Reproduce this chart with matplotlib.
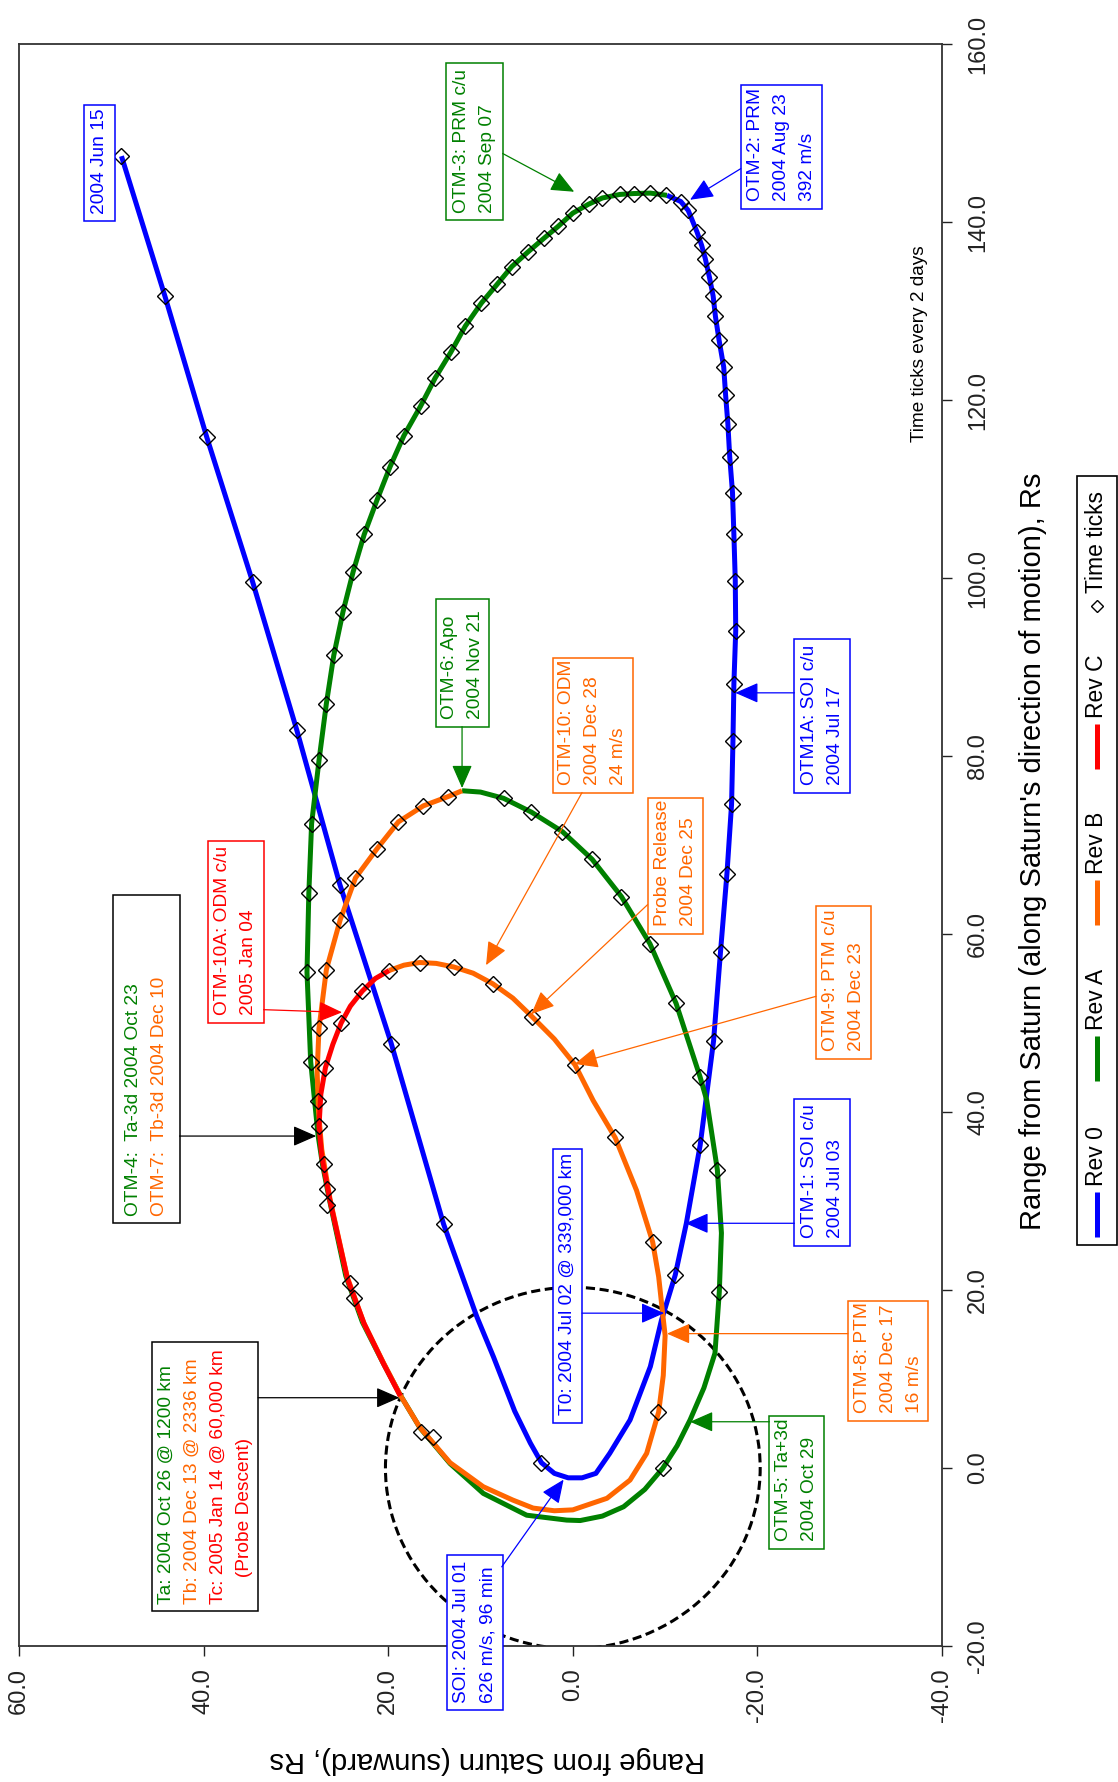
import matplotlib.pyplot as plt
from matplotlib.patches import Circle, Rectangle

plt.rcParams['font.family'] = ['Liberation Sans', 'DejaVu Sans']

BLUE = '#0000ff'
GREEN = '#008000'
ORANGE = '#ff6600'
RED = '#ff0000'

# Orbit tracks as (sunward range, range along Saturn's motion), Rs
rev0 = [(48.9, 147.4), (44.2, 131.7), (39.65, 115.8), (34.7, 99.6), (29.9, 82.9),
        (25.25, 65.6), (19.7, 47.8), (14.0, 27.4), (10.4, 17.0), (8.6, 12.5),
        (6.3, 6.4), (4.6, 2.8), (3.4, 0.6), (2.0, -0.6), (0.5, -1.1), (-1.0, -1.1),
        (-2.5, -0.6), (-4.0, 1.65), (-6.2, 5.4), (-8.4, 11.4), (-9.6, 16.6),
        (-11.1, 21.7), (-12.3, 27.5), (-13.8, 36.3), (-15.25, 48.0), (-16.0, 58.0),
        (-16.7, 66.8), (-17.2, 74.6), (-17.35, 81.7), (-17.45, 88.1), (-17.65, 94.1),
        (-17.6, 99.7), (-17.45, 104.9), (-17.3, 109.6), (-17.0, 113.6), (-16.8, 117.3),
        (-16.55, 120.6), (-16.35, 123.7), (-15.85, 126.7), (-15.45, 129.4),
        (-15.2, 131.7), (-14.8, 133.8), (-14.35, 135.9), (-13.95, 137.4),
        (-13.45, 138.9), (-12.5, 141.3), (-11.7, 142.3), (-10.2, 143.0)]

rev_a = [(-10.2, 143.0), (-8.4, 143.25), (-6.6, 143.2), (-5.1, 143.1), (-3.2, 142.7),
         (-1.7, 142.0), (0.0, 141.0), (1.6, 139.5), (3.1, 138.2), (4.9, 136.6),
         (6.6, 135.0), (8.2, 133.0), (9.9, 130.9), (11.65, 128.3), (13.2, 125.4),
         (14.9, 122.5), (16.5, 119.3), (18.3, 116.0), (19.8, 112.5), (21.2, 108.8),
         (22.6, 104.9), (23.8, 100.7), (24.9, 96.2), (25.9, 91.3), (26.7, 85.9),
         (27.5, 79.5), (28.3, 72.4), (28.6, 64.6), (28.8, 55.7), (28.4, 45.65),
         (27.6, 37.4), (27.1, 34.0), (26.4, 30.3), (24.6, 21.6), (22.8, 16.4),
         (20.6, 11.9), (18.75, 8.3), (16.55, 4.5), (13.3, 0.5), (9.7, -2.85),
         (5.0, -5.3), (0.66, -5.85), (-0.8, -5.9), (-3.2, -5.4), (-5.5, -4.35),
         (-7.8, -2.4), (-9.74, -0.03), (-11.3, 2.5), (-12.7, 5.4), (-14.2, 9.0),
         (-15.4, 12.9), (-15.87, 19.8), (-16.1, 26.4), (-15.66, 33.5), (-14.5, 41.35),
         (-13.78, 43.97), (-11.19, 52.2), (-8.36, 58.9), (-5.27, 64.2), (-2.09, 68.4),
         (1.12, 71.5), (4.49, 73.7), (7.5, 75.25), (10.0, 75.95), (12.0, 76.1)]

rev_b = [(12.0, 76.1), (13.5, 75.45), (16.2, 74.4), (18.9, 72.6), (21.2, 69.6),
         (23.55, 66.3), (25.2, 61.6), (26.7, 56.0), (27.5, 49.4), (27.7, 44.5),
         (27.55, 40.0), (27.2, 35.8), (26.3, 30.2), (24.45, 21.5), (22.65, 16.3),
         (20.5, 11.8), (18.7, 8.2), (16.6, 4.6), (13.3, 0.6), (9.7, -2.1), (6.5, -3.6),
         (4.3, -4.5), (2.0, -4.8), (0.0, -4.7), (-3.7, -3.4), (-6.2, -1.35), (-8.0, 1.65),
         (-9.3, 6.3), (-9.8, 10.4), (-10.0, 14.9), (-9.75, 17.2), (-9.3, 21.5),
         (-8.65, 25.4), (-6.9, 31.2), (-4.6, 37.1), (-2.2, 41.3), (-0.24, 45.3),
         (2.0, 48.2), (4.4, 50.7), (6.5, 52.8), (8.65, 54.4), (10.8, 55.6), (12.9, 56.3),
         (14.8, 56.7), (16.6, 56.8), (18.3, 56.5), (19.9, 55.9)]

rev_c = [(19.9, 55.9), (21.4, 55.0), (22.8, 53.6), (24.1, 51.9), (25.1, 50.0),
         (26.0, 47.6), (26.8, 45.0), (27.3, 42.0), (27.5, 38.4), (27.2, 35.0),
         (26.3, 30.0), (24.4, 21.2), (22.6, 16.2), (20.5, 11.7), (18.7, 8.1)]

# time ticks, one every 2 days
rev0_ticks = [(48.9, 147.4), (44.2, 131.7), (39.65, 115.8), (34.7, 99.6), (29.9, 82.9),
              (25.2, 65.5), (19.7, 47.6), (14.0, 27.4), (3.4, 0.6), (-11.1, 21.7),
              (-13.8, 36.3), (-15.25, 48.0), (-16.0, 58.0), (-16.7, 66.8), (-17.2, 74.6),
              (-17.35, 81.7), (-17.45, 88.1), (-17.65, 94.1), (-17.6, 99.7),
              (-17.45, 104.9), (-17.3, 109.6), (-17.0, 113.6), (-16.8, 117.3),
              (-16.55, 120.6), (-16.35, 123.7), (-15.85, 126.7), (-15.45, 129.4),
              (-15.2, 131.7), (-14.8, 133.8), (-14.35, 135.9), (-13.95, 137.4),
              (-13.45, 138.9), (-12.5, 141.3), (-11.7, 142.3)]

rev_a_ticks = [(-10.1, 143.0), (-8.4, 143.25), (-6.6, 143.2), (-5.1, 143.1), (-3.2, 142.7),
               (-1.7, 142.0), (0.0, 141.0), (1.6, 139.5), (3.1, 138.2), (4.9, 136.6),
               (6.6, 135.0), (8.2, 133.0), (9.9, 130.9), (11.65, 128.3), (13.2, 125.4),
               (14.9, 122.5), (16.5, 119.3), (18.3, 116.0), (19.8, 112.5), (21.2, 108.8),
               (22.6, 104.9), (23.8, 100.7), (24.9, 96.2), (25.9, 91.3), (26.7, 85.9),
               (27.5, 79.5), (28.3, 72.4), (28.6, 64.6), (28.8, 55.7), (28.4, 45.65),
               (27.0, 34.2), (24.1, 20.75), (16.45, 4.1), (-9.74, -0.03), (-15.87, 19.8),
               (-15.66, 33.5), (-13.78, 43.97), (-11.19, 52.2), (-8.36, 58.9),
               (-5.27, 64.2), (-2.09, 68.4), (1.12, 71.5), (4.49, 73.7), (7.5, 75.25)]

rev_b_ticks = [(13.5, 75.45), (16.2, 74.4), (18.9, 72.6), (21.2, 69.6), (23.55, 66.3),
               (25.2, 61.6), (26.7, 56.0), (27.5, 49.4), (27.6, 41.2), (26.65, 31.3),
               (23.7, 19.1), (15.1, 3.45), (-9.26, 6.3), (-8.66, 25.4), (-4.57, 37.15),
               (-0.24, 45.3), (4.4, 50.7), (8.66, 54.4), (12.9, 56.3), (16.6, 56.8),
               (19.9, 55.9)]

rev_c_ticks = [(22.8, 53.6), (25.1, 50.0), (26.8, 45.0), (27.5, 38.4), (26.6, 29.6)]

titan_orbit_radius = 20.3

x_ticks = [60, 40, 20, 0, -20, -40]
y_ticks = [-20, 0, 20, 40, 60, 80, 100, 120, 140, 160]

# event callouts: box (left s, right s, bottom a, top a), text lines, edge colour, arrow
notes = [
    dict(box=(53.0, 49.6, 140.1, 153.1), lines=[('2004 Jun 15', BLUE)], edge=BLUE, arrow=None),
    dict(box=(13.7, 7.6, 140.2, 157.9), lines=[('OTM-3: PRM c/u', GREEN), ('2004 Sep 07', GREEN)],
         edge=GREEN, arrow=((7.6, 147.7), (-0.15, 143.4))),
    dict(box=(-18.2, -27.0, 141.5, 155.4),
         lines=[('OTM-2: PRM', BLUE), ('2004 Aug 23', BLUE), ('392 m/s', BLUE)],
         edge=BLUE, arrow=((-18.2, 146.0), (-12.7, 142.5))),
    dict(box=(-24.0, -30.0, 75.9, 93.1), lines=[('OTM1A: SOI c/u', BLUE), ('2004 Jul 17', BLUE)],
         edge=BLUE, arrow=((-24.0, 87.1), (-17.6, 87.1))),
    dict(box=(14.8, 9.1, 83.3, 97.6), lines=[('OTM-6: Apo', GREEN), ('2004 Nov 21', GREEN)],
         edge=GREEN, arrow=((12.0, 83.3), (12.0, 76.4))),
    dict(box=(2.2, -6.5, 75.9, 91.0),
         lines=[('OTM-10: ODM', ORANGE), ('2004 Dec 28', ORANGE), ('24 m/s', ORANGE)],
         edge=ORANGE, arrow=((-1.0, 75.9), (9.4, 56.5))),
    dict(box=(-8.1, -14.1, 60.0, 75.3), lines=[('Probe Release', ORANGE), ('2004 Dec 25', ORANGE)],
         edge=ORANGE, arrow=((-8.1, 63.3), (4.5, 51.0))),
    dict(box=(-26.35, -32.35, 46.0, 63.15), lines=[('OTM-9: PTM c/u', ORANGE), ('2004 Dec 23', ORANGE)],
         edge=ORANGE, arrow=((-26.35, 53.0), (-0.2, 45.4))),
    dict(box=(39.5, 33.5, 50.0, 70.45), lines=[('OTM-10A: ODM c/u', RED), ('2005 Jan 04', RED)],
         edge=RED, arrow=((33.5, 51.5), (25.0, 51.2))),
    dict(box=(49.8, 42.6, 27.5, 64.4),
         lines=[('OTM-4:  Ta-3d 2004 Oct 23', GREEN), ('OTM-7:  Tb-3d 2004 Dec 10', ORANGE)],
         edge='black', arrow=((42.6, 37.3), (27.8, 37.3))),
    dict(box=(45.6, 34.1, -16.1, 14.2),
         lines=[('Ta: 2004 Oct 26 @ 1200 km', GREEN), ('Tb: 2004 Dec 13 @ 2336 km', ORANGE),
                ('Tc: 2005 Jan 14 @ 60,000 km', RED), ('     (Probe Descent)', RED)],
         edge='black', arrow=((34.1, 7.9), (18.8, 7.9))),
    dict(box=(13.6, 7.6, -27.2, -9.8), lines=[('SOI: 2004 Jul 01', BLUE), ('626 m/s, 96 min', BLUE)],
         edge=BLUE, arrow=((7.7, -11.1), (1.0, -1.3))),
    dict(box=(2.2, -1.0, 5.1, 35.9), lines=[('T0: 2004 Jul 02 @ 339,000 km', BLUE)],
         edge=BLUE, arrow=((-1.0, 17.4), (-9.9, 17.4))),
    dict(box=(-24.0, -30.0, 25.0, 41.5), lines=[('OTM-1: SOI c/u', BLUE), ('2004 Jul 03', BLUE)],
         edge=BLUE, arrow=((-24.0, 27.5), (-12.2, 27.5))),
    dict(box=(-29.8, -38.5, 5.3, 18.8),
         lines=[('OTM-8: PTM', ORANGE), ('2004 Dec 17', ORANGE), ('16 m/s', ORANGE)],
         edge=ORANGE, arrow=((-29.8, 15.1), (-10.2, 15.1))),
    dict(box=(-21.3, -27.25, -9.1, 5.9), lines=[('OTM-5: Ta+3d', GREEN), ('2004 Oct 29', GREEN)],
         edge=GREEN, arrow=((-21.3, 5.2), (-12.7, 5.2))),
]

legend_items = [('Rev 0', BLUE), ('Rev A', GREEN), ('Rev B', ORANGE), ('Rev C', RED)]

NOTE_SIZE = 13.8
LINE_STEP = 2.82   # column spacing of callout lines, in sunward Rs

fig = plt.figure(figsize=(11.18, 17.82), dpi=100)
# the page is turned on its side: sunward range runs right-to-left along the bottom,
# range along the direction of motion runs up the right-hand side
ax = fig.add_axes([0.017, 0.0763, 0.8256, 0.899])
ax.set_xlim(60, -40)
ax.set_ylim(-20, 160)

ax.add_patch(Circle((0, 0), titan_orbit_radius, fill=False, ec='black', lw=2.2,
                    ls=(0, (3, 1.5)), zorder=1))

for track, colour in [(rev0, BLUE), (rev_a, GREEN), (rev_b, ORANGE), (rev_c, RED)]:
    s, a = zip(*track)
    ax.plot(s, a, color=colour, lw=3.6, solid_capstyle='butt', zorder=2)

for ticks in [rev0_ticks, rev_a_ticks, rev_b_ticks, rev_c_ticks]:
    s, a = zip(*ticks)
    ax.plot(s, a, ls='none', marker='D', ms=8, mfc='none', mec='black', mew=1.0, zorder=4)

for note in notes:
    sl, sr, ab, at = note['box']
    ax.add_patch(Rectangle((sr, ab), sl - sr, at - ab, fc='white', ec=note['edge'],
                           lw=1.1, zorder=5, clip_on=False))
    n = len(note['lines'])
    sc = (sl + sr) / 2
    for i, (txt, colour) in enumerate(note['lines']):
        ax.text(sc + ((n - 1) / 2 - i) * LINE_STEP, ab + 0.85, txt, color=colour,
                fontsize=NOTE_SIZE, rotation=90, rotation_mode='anchor',
                ha='left', va='center', zorder=6, clip_on=False)
    if note['arrow']:
        start, tip = note['arrow']
        ax.annotate('', xy=tip, xytext=start,
                    arrowprops=dict(arrowstyle='-|>,head_length=0.8,head_width=0.35',
                                    mutation_scale=18, color=note['edge'], lw=0.9,
                                    shrinkA=0, shrinkB=0),
                    zorder=6, annotation_clip=False)

ax.text(-37.6, 126.3, 'Time ticks every 2 days', fontsize=13.7, rotation=90,
        ha='center', va='center')

ax.set_xticks(x_ticks)
ax.set_xticklabels([f'{v:.1f}' for v in x_ticks])
ax.yaxis.tick_right()
ax.set_yticks(y_ticks)
ax.set_yticklabels([f'{v:.1f}' for v in y_ticks])
ax.tick_params(axis='x', labelrotation=90, direction='out', length=7, width=1.0,
               labelsize=17, pad=9, colors='#222222')
ax.tick_params(axis='y', labelrotation=90, direction='out', length=7, width=1.0,
               labelsize=17, pad=11, colors='#222222')
for lbl in ax.get_yticklabels():
    lbl.set_va('center')
for sp in ax.spines.values():
    sp.set_color('#333333')
    sp.set_linewidth(1.3)

fig.text(0.924, 0.522, "Range from Saturn (along Saturn's direction of motion), Rs",
         fontsize=21, rotation=90, ha='center', va='center')
fig.text(0.436, 0.0125, 'Range from Saturn (sunward), Rs', fontsize=21, rotation=180,
         ha='center', va='center')

# legend, laid out along the right edge
lax = fig.add_axes([0.9633, 0.3013, 0.0358, 0.4315])
lax.set_xlim(0, 1)
lax.set_ylim(0, 769)
lax.axis('off')
lax.add_patch(Rectangle((0, 0), 1, 769, fill=False, ec='black', lw=1.2, clip_on=False))
pos = 8
for label, colour in legend_items:
    lax.plot([0.5, 0.5], [pos, pos + 45], color=colour, lw=3.6, solid_capstyle='butt')
    lax.text(0.5, pos + 51, label, fontsize=16.5, rotation=90, rotation_mode='anchor',
             ha='left', va='center')
    pos += 156
lax.plot([0.5], [pos + 7], ls='none', marker='D', ms=6, mfc='none', mec='black', mew=1.0)
lax.text(0.5, pos + 20, 'Time ticks', fontsize=16.5, rotation=90, rotation_mode='anchor',
         ha='left', va='center')

fig.savefig('out.png', dpi=100)
